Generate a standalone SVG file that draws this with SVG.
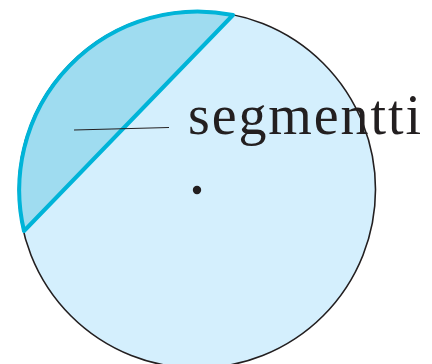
<svg xmlns="http://www.w3.org/2000/svg" width="432" height="364" viewBox="0 0 432 364">
<style>
.lbl{font-family:"Liberation Serif","DejaVu Serif",serif;font-size:56px;fill:#231f20}
</style>
<rect width="432" height="364" fill="#ffffff"/>
<g id="circle">
<circle cx="197" cy="189.5" r="178.5" fill="#d4effd" stroke="#231f20" stroke-width="1.6"/>
</g>
<g id="segment">
<path d="M24,231 A178.5,178.5 0 0 1 233,15 Z" fill="#9fdcf0" stroke="#00b4d8" stroke-width="4" stroke-linejoin="round"/>
</g>
<g id="center">
<circle cx="197" cy="190" r="4.2" fill="#231f20"/>
</g>
<g id="connectors">
<line x1="74" y1="130" x2="169" y2="127.5" stroke="#231f20" stroke-width="1.1"/>
</g>
<g id="label">
<text class="lbl" x="188" y="134" textLength="233" lengthAdjust="spacing">segmentti</text>
</g>
</svg>
